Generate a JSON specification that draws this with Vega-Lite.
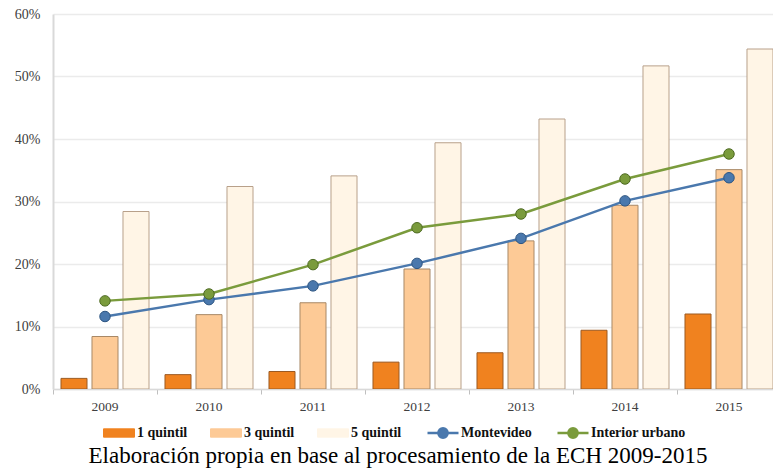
{
  "$schema": "https://vega.github.io/schema/vega-lite/v6.json",
  "width": 720,
  "height": 375,
  "autosize": {"type": "none"},
  "padding": {"left": 53, "top": 14, "right": 0, "bottom": 79},
  "background": "white",
  "config": {"view": {"stroke": null}, "font": "Liberation Serif"},
  "title": {
    "text": "Elaboración propia en base al procesamiento de la ECH 2009-2015",
    "orient": "bottom",
    "anchor": "middle",
    "font": "Liberation Serif",
    "fontSize": 23,
    "fontWeight": "normal",
    "color": "#000000",
    "dx": -15,
    "offset": 2
  },
  "data": {
    "values": [
      {"anio": "2009", "serie": "1 quintil", "valor": 1.7},
      {"anio": "2010", "serie": "1 quintil", "valor": 2.3},
      {"anio": "2011", "serie": "1 quintil", "valor": 2.8},
      {"anio": "2012", "serie": "1 quintil", "valor": 4.3},
      {"anio": "2013", "serie": "1 quintil", "valor": 5.8},
      {"anio": "2014", "serie": "1 quintil", "valor": 9.4},
      {"anio": "2015", "serie": "1 quintil", "valor": 12.0},
      {"anio": "2009", "serie": "3 quintil", "valor": 8.4},
      {"anio": "2010", "serie": "3 quintil", "valor": 11.9},
      {"anio": "2011", "serie": "3 quintil", "valor": 13.8},
      {"anio": "2012", "serie": "3 quintil", "valor": 19.2},
      {"anio": "2013", "serie": "3 quintil", "valor": 23.7},
      {"anio": "2014", "serie": "3 quintil", "valor": 29.4},
      {"anio": "2015", "serie": "3 quintil", "valor": 35.1},
      {"anio": "2009", "serie": "5 quintil", "valor": 28.4},
      {"anio": "2010", "serie": "5 quintil", "valor": 32.4},
      {"anio": "2011", "serie": "5 quintil", "valor": 34.1},
      {"anio": "2012", "serie": "5 quintil", "valor": 39.4},
      {"anio": "2013", "serie": "5 quintil", "valor": 43.2},
      {"anio": "2014", "serie": "5 quintil", "valor": 51.7},
      {"anio": "2015", "serie": "5 quintil", "valor": 54.4},
      {"anio": "2009", "serie": "Montevideo", "valor": 11.6},
      {"anio": "2010", "serie": "Montevideo", "valor": 14.3},
      {"anio": "2011", "serie": "Montevideo", "valor": 16.5},
      {"anio": "2012", "serie": "Montevideo", "valor": 20.1},
      {"anio": "2013", "serie": "Montevideo", "valor": 24.1},
      {"anio": "2014", "serie": "Montevideo", "valor": 30.1},
      {"anio": "2015", "serie": "Montevideo", "valor": 33.8},
      {"anio": "2009", "serie": "Interior urbano", "valor": 14.1},
      {"anio": "2010", "serie": "Interior urbano", "valor": 15.2},
      {"anio": "2011", "serie": "Interior urbano", "valor": 19.9},
      {"anio": "2012", "serie": "Interior urbano", "valor": 25.8},
      {"anio": "2013", "serie": "Interior urbano", "valor": 28.0},
      {"anio": "2014", "serie": "Interior urbano", "valor": 33.6},
      {"anio": "2015", "serie": "Interior urbano", "valor": 37.6}
    ]
  },
  "encoding": {
    "x": {
      "field": "anio",
      "type": "nominal",
      "scale": {"range": [0, 728], "paddingInner": 0, "paddingOuter": 0},
      "axis": {
        "title": null,
        "labelAngle": 0,
        "bandPosition": 0,
        "grid": false,
        "ticks": true,
        "tickSize": 5,
        "tickColor": "#BFBFBF",
        "domainColor": "#D9D9D9",
        "domainWidth": 1.5,
        "labelFont": "Liberation Serif",
        "labelFontSize": 13.5,
        "labelColor": "#404040",
        "labelPadding": 5
      }
    },
    "y": {
      "field": "valor",
      "type": "quantitative",
      "scale": {"domain": [0, 60], "nice": false},
      "axis": {
        "title": null,
        "values": [0, 10, 20, 30, 40, 50, 60],
        "labelExpr": "datum.value + '%'",
        "ticks": false,
        "domain": true,
        "domainColor": "#D9D9D9",
        "domainWidth": 2,
        "gridColor": "#EBEBEB",
        "gridWidth": 1.5,
        "labelFont": "Liberation Serif",
        "labelFontSize": 14,
        "labelColor": "#404040",
        "labelPadding": 13
      }
    }
  },
  "layer": [
    {
      "transform": [{"filter": "indexof(['1 quintil','3 quintil','5 quintil'], datum.serie) >= 0"}],
      "mark": {"type": "bar", "clip": true, "strokeWidth": 1},
      "encoding": {
        "xOffset": {
          "field": "serie",
          "type": "nominal",
          "scale": {"domain": ["1 quintil", "3 quintil", "5 quintil"], "paddingInner": 0.161, "paddingOuter": 0.258}
        },
        "color": {
          "field": "serie",
          "type": "nominal",
          "scale": {
            "domain": ["1 quintil", "3 quintil", "5 quintil", "Montevideo", "Interior urbano"],
            "range": ["#F0821F", "#FDCA96", "#FFF5E6", "#4A78AD", "#7A9B3C"]
          },
          "legend": {
            "title": null,
            "orient": "none",
            "legendX": 59,
            "legendY": 412,
            "direction": "horizontal",
            "columns": 5,
            "gridAlign": "none",
            "columnPadding": 20,
            "symbolSize": 961,
            "labelOffset": 11,
            "labelFont": "Liberation Serif",
            "labelFontSize": 14,
            "labelFontWeight": "bold",
            "labelColor": "#111111",
            "encode": {
              "symbols": {
                "update": {
                  "shape": {"signal": "datum.value == 'Montevideo' || datum.value == 'Interior urbano' ? 'M-1,0H-0.3A0.3,0.3 0 1,1 0.3,0A0.3,0.3 0 1,1 -0.3,0M0.3,0H1' : 'M-1,-0.27H1V0.27H-1Z'"},
                  "fill": {"signal": "scale('color', datum.value)"},
                  "stroke": {"signal": "datum.value == '1 quintil' ? '#B0601E' : datum.value == '3 quintil' ? '#D9A878' : datum.value == '5 quintil' ? '#D4B89C' : scale('color', datum.value)"},
                  "strokeWidth": {"signal": "datum.value == 'Montevideo' || datum.value == 'Interior urbano' ? 2.5 : 1"},
                  "opacity": {"value": 1}
                }
              }
            }
          }
        },
        "stroke": {
          "field": "serie",
          "type": "nominal",
          "scale": {
            "domain": ["1 quintil", "3 quintil", "5 quintil", "Montevideo", "Interior urbano"],
            "range": ["#9C5A22", "#A88866", "#B8A08A", "#2D5582", "#4E6B22"]
          },
          "legend": null
        }
      }
    },
    {
      "transform": [{"filter": "indexof(['Montevideo','Interior urbano'], datum.serie) >= 0"}],
      "mark": {"type": "line", "strokeWidth": 2.5},
      "encoding": {
        "color": {"field": "serie", "type": "nominal"}
      }
    },
    {
      "transform": [{"filter": "indexof(['Montevideo','Interior urbano'], datum.serie) >= 0"}],
      "mark": {"type": "point", "filled": true, "size": 110, "opacity": 1, "strokeWidth": 1},
      "encoding": {
        "color": {"field": "serie", "type": "nominal"},
        "stroke": {"field": "serie", "type": "nominal", "legend": null}
      }
    }
  ]
}
